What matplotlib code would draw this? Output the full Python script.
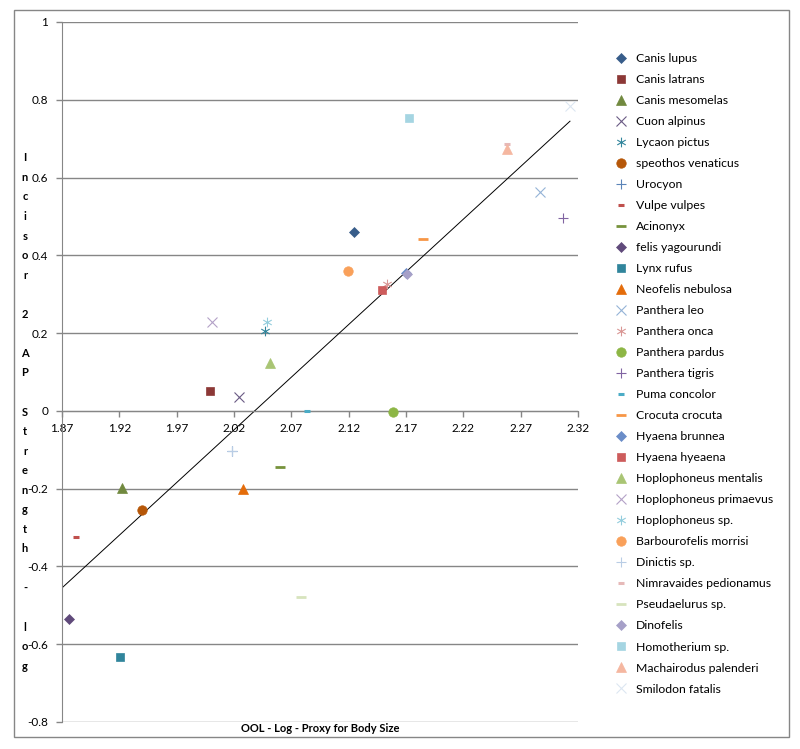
import matplotlib
matplotlib.use("Agg")
import matplotlib.pyplot as plt
import numpy as np
from matplotlib.path import Path
from matplotlib.patches import Rectangle

plt.rcParams['font.family'] = ['Lato', 'DejaVu Sans']

species = ["Canis lupus", "Canis latrans", "Canis mesomelas", "Cuon alpinus", "Lycaon pictus",
           "speothos venaticus", "Urocyon", "Vulpe vulpes", "Acinonyx", "felis yagourundi",
           "Lynx rufus", "Neofelis nebulosa", "Panthera leo", "Panthera onca", "Panthera pardus",
           "Panthera tigris", "Puma concolor", "Crocuta crocuta", "Hyaena brunnea", "Hyaena hyeaena",
           "Hoplophoneus mentalis", "Hoplophoneus primaevus", "Hoplophoneus sp.", "Barbourofelis morrisi",
           "Dinictis sp.", "Nimravaides pedionamus", "Pseudaelurus sp.", "Dinofelis", "Homotherium sp.",
           "Machairodus palenderi", "Smilodon fatalis"]

ool_log = [2.125, 1.999, 1.922, 2.024, 2.047,
           1.940, 2.018, 1.882, 2.060, 1.876,
           1.921, 2.028, 2.287, 2.153, 2.159,
           2.307, 2.084, 2.185, 2.170, 2.149,
           2.051, 2.001, 2.049, 2.119,
           2.018, 2.258, 2.078, 2.171, 2.173,
           2.258, 2.313]

incisor_log = [0.461, 0.051, -0.197, 0.036, 0.205,
               -0.255, -0.103, -0.325, -0.145, -0.536,
               -0.632, -0.202, 0.563, 0.325, -0.003,
               0.497, 0.000, 0.442, 0.355, 0.310,
               0.124, 0.228, 0.228, 0.359,
               -0.103, 0.687, -0.478, 0.351, 0.752,
               0.673, 0.785]

colors = ["#385D8A", "#8C3836", "#71893F", "#6A5A84", "#31859C",
          "#B65708", "#5B84B8", "#C0504D", "#77933C", "#604A7B",
          "#31859C", "#E46C0A", "#95B3D7", "#D99694", "#8DB645",
          "#8064A2", "#4BACC6", "#F79646", "#6B8DC8", "#CD5C5C",
          "#A9C574", "#B3A2C7", "#93CDDD", "#F9A05A",
          "#B9CDE5", "#E6B9B8", "#D7E4BD", "#A6A0C8", "#A5D5E2",
          "#F5B7A0", "#DCE6F2"]

trend_slope = 2.709
trend_intercept = -5.521

xticks = [1.87, 1.92, 1.97, 2.02, 2.07, 2.12, 2.17, 2.22, 2.27, 2.32]
yticks = [-0.8, -0.6, -0.4, -0.2, 0, 0.2, 0.4, 0.6, 0.8, 1]

# Excel-like marker cycle
star_path = Path([(0, -1), (0, 1), (-0.87, -0.5), (0.87, 0.5), (-0.87, 0.5), (0.87, -0.5)],
                 [Path.MOVETO, Path.LINETO, Path.MOVETO, Path.LINETO, Path.MOVETO, Path.LINETO])
marker_cycle = [
    dict(marker='D', ms=5.2, filled=True),
    dict(marker='s', ms=6.3, filled=True),
    dict(marker='^', ms=7, filled=True),
    dict(marker='x', ms=6.5, filled=False, mew=0.8),
    dict(marker=star_path, ms=7, filled=False, mew=0.8),
    dict(marker='o', ms=6.8, filled=True),
    dict(marker='+', ms=7.5, filled=False, mew=0.8),
    dict(marker='_', ms=4, filled=False, mew=2.2),
    dict(marker='_', ms=7, filled=False, mew=2.0),
]

fig = plt.figure(figsize=(8, 7.49), dpi=100)
W, H = 800, 749

# outer chart border
fig.patches.append(Rectangle((14 / W, 1 - 737 / H), (789 - 14) / W, (737 - 10) / H,
                             transform=fig.transFigure, fill=False, edgecolor='#868686', lw=1))

ax = fig.add_axes([62 / W, 1 - 722 / H, (578 - 62) / W, (722 - 22) / H])
ax.set_xlim(1.87, 2.32)
ax.set_ylim(-0.8, 1.0)

for y in yticks:
    ax.axhline(y, color='#868686', lw=1, zorder=0)

handles = []
for i, (name, xv, yv, c) in enumerate(zip(species, ool_log, incisor_log, colors)):
    m = marker_cycle[i % 9]
    kw = dict(marker=m['marker'], markersize=m['ms'], linestyle='none', color=c)
    if m['filled']:
        kw.update(markerfacecolor=c, markeredgecolor=c, markeredgewidth=0.5)
    else:
        kw.update(markeredgecolor=c, markeredgewidth=m['mew'])
    h, = ax.plot([xv], [yv], label=name, zorder=3, clip_on=False, **kw)
    handles.append(h)

xs = np.array([min(ool_log) - 0.006, max(ool_log)])
ax.plot(xs, trend_slope * xs + trend_intercept, color='black', lw=0.7, zorder=2)

ax.spines['top'].set_visible(False)
ax.spines['right'].set_visible(False)
ax.spines['left'].set_color('#868686')
ax.spines['bottom'].set_color('#868686')
ax.spines['bottom'].set_position(('data', 0))
ax.set_xticks(xticks)
ax.set_xticklabels([f"{v:.2f}" for v in xticks])
ax.set_yticks(yticks)
ax.set_yticklabels([("%g" % v) for v in yticks])
ax.tick_params(axis='both', colors='#868686', labelcolor='black', labelsize=8.5, length=4, width=1)
ax.tick_params(axis='x', pad=5)
ax.tick_params(axis='y', pad=6)
ax.patch.set_alpha(0)

# axis titles
fig.text(320 / W, 1 - 728 / H, "OOL - Log - Proxy for Body Size", ha='center', va='center',
         fontsize=8, fontweight='bold')
fig.text(25 / W, 1 - 412 / H, "\n".join(list("Incisor 2 AP Strength - log")), ha='center', va='center',
         fontsize=8, fontweight='bold', linespacing=1.95)

fig.legend(handles=handles, labels=species, loc='upper left', bbox_to_anchor=(610 / W, 1 - 48 / H),
           frameon=False, fontsize=8.8, labelspacing=0.82, handlelength=1.0, handletextpad=0.75,
           borderaxespad=0, numpoints=1)

fig.savefig("out.png", dpi=100)
